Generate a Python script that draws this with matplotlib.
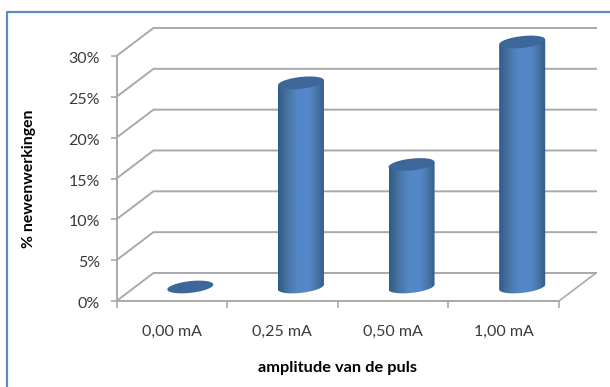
import numpy as np
import matplotlib
matplotlib.use("Agg")
import matplotlib.pyplot as plt
from matplotlib.colors import LinearSegmentedColormap
from matplotlib.lines import Line2D
from matplotlib.patches import Polygon
from matplotlib.ticker import FuncFormatter
from matplotlib.transforms import ScaledTranslation

plt.rcParams['font.family'] = ['Lato', 'DejaVu Sans']

categories = ['0,00 mA', '0,25 mA', '0,50 mA', '1,00 mA']
values = [0, 25, 15, 30]
y_ticks = [0, 5, 10, 15, 20, 25, 30]

W, H = 610, 387
GREY = '#a9a9a9'
depth_x, depth_y = 0.3345, 3.43   # fake 3d offset of the back wall, in data units
half_w, half_h, tilt = 0.208, 0.72, 0.30   # cylinder ellipse

fig = plt.figure(figsize=(W / 100, H / 100), dpi=100, facecolor='white')
ax = fig.add_axes([116.5 / W, 1 - 301 / H, (559 - 116.5) / W, (301 - 56) / H])
ax.patch.set_visible(False)
ax.set_xlim(0, 4)
ax.set_ylim(0, 30)

# blue frame, runs off the right and bottom of the picture
fig.add_artist(Line2D([6.5 / W, 6.5 / W, 1], [0, 1 - 11.5 / H, 1 - 11.5 / H], color='#5f8ac4', lw=1.6))

# walls
for v in y_ticks:
    ax.plot([0, depth_x, 4 + depth_x], [v, v + depth_y, v + depth_y], color=GREY, lw=1.4, clip_on=False, zorder=1,
            solid_joinstyle='miter')
ax.plot([4, 4 + depth_x], [0, depth_y], color=GREY, lw=1.2, clip_on=False, zorder=1)

# axes
for s in ['top', 'right']:
    ax.spines[s].set_visible(False)
for s in ['left', 'bottom']:
    ax.spines[s].set_color(GREY)
    ax.spines[s].set_linewidth(1.4)
    ax.spines[s].set_zorder(2)
ax.set_yticks(y_ticks)
ax.yaxis.set_major_formatter(FuncFormatter(lambda v, p: '%d%%' % v))
ax.set_xticks(range(5))
ax.set_xticklabels([])
ax.set_xticks(np.arange(4) + 0.5, minor=True)
ax.set_xticklabels(categories, minor=True)
ax.tick_params(axis='y', length=4, width=1.2, color=GREY, labelsize=11.5, labelcolor='#3a3a3a', pad=8)
ax.tick_params(axis='x', which='major', length=5, width=1.2, color=GREY)
ax.tick_params(axis='x', which='minor', length=0, labelsize=11.5, labelcolor='#3a3a3a', pad=17)
ax.set_xlabel('amplitude van de puls', fontsize=11.8, fontweight='bold', color='black', labelpad=16)
ax.set_ylabel('% newenwerkingen', fontsize=11.3, fontweight='bold', color='black', labelpad=23)
# labels sit a little under their ticks
for lab in ax.get_yticklabels():
    lab.set_transform(lab.get_transform() + ScaledTranslation(0, -1.5 / 100, fig.dpi_scale_trans))

# cylinders
shade = LinearSegmentedColormap.from_list('cyl', [(0, '#2f5a8c'), (0.18, '#45729f'), (0.42, '#5587c8'),
                                                  (0.68, '#5587c8'), (0.88, '#436f9f'), (1, '#31598a')])
t = np.linspace(0, 2 * np.pi, 90)
for i, v in enumerate(values):
    cx = i + 0.5 + depth_x / 2
    cy = depth_y / 2 + v
    base = depth_y / 2
    ex = half_w * np.cos(t)
    ey = half_h * np.sin(t) + tilt * np.cos(t)
    if v > 0:
        low = t[(t >= np.pi) & (t <= 2 * np.pi)]
        lx = cx + half_w * np.cos(low)
        ly = base + half_h * np.sin(low) + tilt * np.cos(low)
        body = np.column_stack([np.r_[lx, cx + half_w, cx - half_w],
                                np.r_[ly, cy + tilt, cy - tilt]])
        img = ax.imshow(np.linspace(0, 1, 128)[None, :], cmap=shade, aspect='auto', zorder=3,
                        extent=[cx - half_w, cx + half_w, base - 2, cy + 1])
        img.set_clip_box(fig.bbox)
        img.set_clip_path(Polygon(body, transform=ax.transData))
    ax.fill(cx + ex, cy + ey, color='#3c6798', lw=0, zorder=4, clip_on=False)

ax.set_xlim(0, 4)
ax.set_ylim(0, 30)
fig.savefig('out.png', dpi=100)
